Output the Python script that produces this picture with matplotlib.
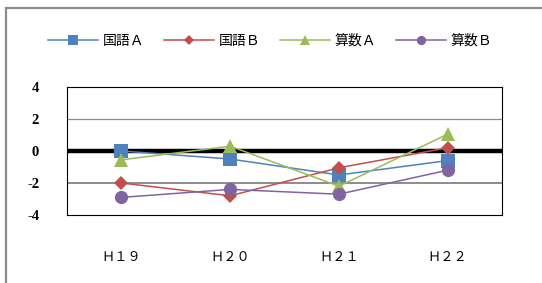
import matplotlib.pyplot as plt
from matplotlib.patches import Rectangle

plt.rcParams['font.family'] = ['Noto Sans CJK JP', 'DejaVu Sans']

# データ
nendo = ['Ｈ１９', 'Ｈ２０', 'Ｈ２１', 'Ｈ２２']
kokugo_a = [0.0, -0.5, -1.5, -0.6]
kokugo_b = [-2.0, -2.8, -1.05, 0.2]
sansu_a = [-0.55, 0.3, -2.2, 1.05]
sansu_b = [-2.9, -2.4, -2.7, -1.2]
y_ticks = [4, 2, 0, -2, -4]

series = [
    ('国語Ａ', kokugo_a, '#4F81BD', 's', 9.5),
    ('国語Ｂ', kokugo_b, '#C0504D', 'D', 7),
    ('算数Ａ', sansu_a, '#9BBB59', '^', 9.5),
    ('算数Ｂ', sansu_b, '#8064A2', 'o', 9.5),
]

fig = plt.figure(figsize=(5.42, 2.83), dpi=100)
fig.patches.append(Rectangle((6 / 542, -0.1), 1.2, 1 - 8 / 283 + 0.1,
                             transform=fig.transFigure, fill=False,
                             edgecolor='#8c8c8c', linewidth=1.6))

ax = fig.add_axes([67 / 542, 1 - 215 / 283, 435 / 542, 128 / 283])
x = list(range(len(nendo)))

# 補助線
ax.axhline(2, color='#8c8c8c', lw=0.9, zorder=1)
ax.axhline(-2, color='#8c8c8c', lw=1.4, zorder=1)
ax.axhline(0, color='black', lw=3.2, zorder=1)

for nombre, vals, color, mk, ms in series:
    ax.plot(x, vals, color=color, lw=1.1, marker=mk, markersize=ms,
            markeredgewidth=0, label=nombre, zorder=3)

ax.set_xlim(-0.5, 3.5)
ax.set_ylim(-4, 4)
ax.set_xticks(x)
ax.set_xticklabels(nendo, fontsize=9.5)
ax.set_yticks(y_ticks)
ax.set_yticklabels([str(v) for v in y_ticks], family='Liberation Serif',
                   fontweight='bold', fontsize=10.5)
ax.tick_params(axis='both', length=0)
ax.tick_params(axis='y', pad=20)
ax.tick_params(axis='x', pad=26)
for sp in ax.spines.values():
    sp.set_linewidth(0.8)
    sp.set_color('black')

fig.legend(loc='center', bbox_to_anchor=(0.498, 1 - 41 / 283), ncol=4,
           frameon=False, fontsize=10, handlelength=3.6, handletextpad=0.35,
           columnspacing=1.4, markerscale=0.7)

fig.savefig('out.png', dpi=100, facecolor='white')
